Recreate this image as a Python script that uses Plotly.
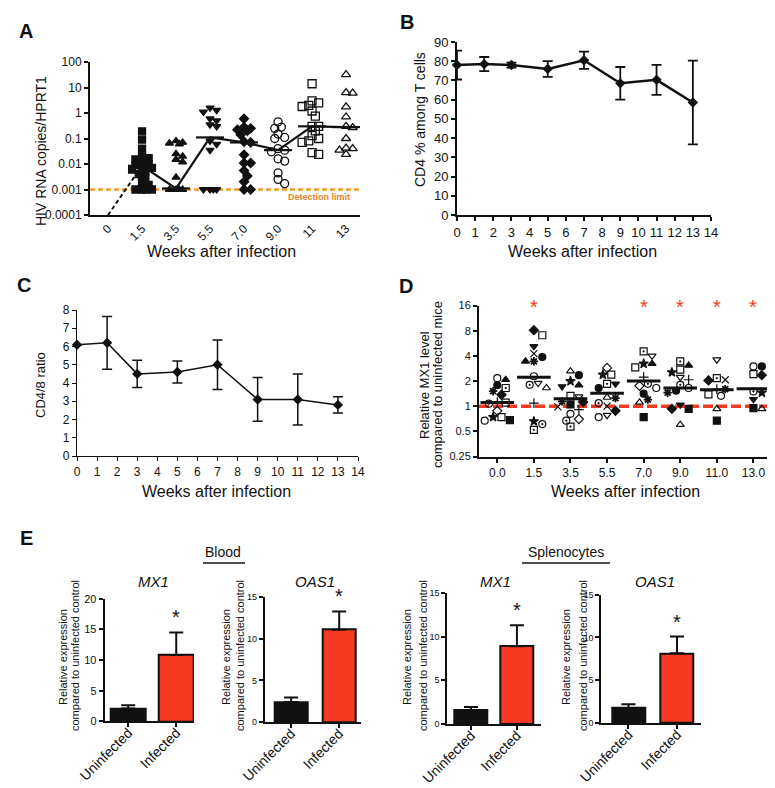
import math
import plotly.graph_objects as go

W, H = 775, 788
FONT = "Liberation Sans, Arial, Helvetica, sans-serif"
BLACK = "#111111"
RED = "#f43a22"
ORANGE = "#f29b2c"
ORANGE_TEXT = "#e8821f"

# ---------------- Panel A data ----------------
A_CATEGORIES = ["0", "1.5", "3.5", "5.5", "7.0", "9.0", "11", "13"]
A_WEEK_1_5 = [0.19, 0.09, 0.04, 0.02, 0.017, 0.015, 0.012, 0.01, 0.009, 0.008, 0.007,
              0.006, 0.005, 0.004, 0.003, 0.002, 0.0015, 0.001, 0.001, 0.001, 0.001]
A_WEEK_3_5 = [0.08, 0.07, 0.065, 0.06, 0.025, 0.02, 0.015, 0.012, 0.003, 0.001, 0.001, 0.001, 0.001]
A_WEEK_5_5 = [1.6, 1.3, 1.1, 0.6, 0.5, 0.35, 0.3, 0.08, 0.06, 0.035, 0.001, 0.001, 0.001, 0.001]
A_WEEK_7_0 = [0.6, 0.28, 0.25, 0.22, 0.2, 0.14, 0.075, 0.07, 0.023, 0.011, 0.011, 0.0055,
              0.0034, 0.002, 0.001, 0.001]
A_WEEK_9_0 = [0.45, 0.28, 0.25, 0.15, 0.11, 0.1, 0.04, 0.035, 0.03, 0.016, 0.013, 0.0045, 0.0025, 0.0017]
A_WEEK_11 = [14, 3, 2.5, 2.0, 1.8, 1.2, 0.75, 0.3, 0.3, 0.2, 0.13, 0.1, 0.08, 0.07, 0.028, 0.024]
A_WEEK_13 = [32, 6.3, 6.0, 1.75, 0.7, 0.3, 0.27, 0.1, 0.042, 0.04, 0.035, 0.024]
A_MEDIANS = [0.0001, 0.0085, 0.0011, 0.11, 0.07, 0.035, 0.3, 0.28]
A_DETECTION_LIMIT = 0.001
A_TICK_VALUES = [0.0001, 0.001, 0.01, 0.1, 1, 10, 100]
A_TICK_LABELS = ["0.0001", "0.001", "0.01", "0.1", "1", "10", "100"]

# ---------------- Panel B data ----------------
B_WEEKS = [0, 1.5, 3, 5, 7, 9, 11, 13]
B_CD4_PERCENT = [78, 78.5, 78, 76, 80.5, 68.5, 70.3, 58.5]
B_CD4_ERROR = [7.5, 3.7, 1.3, 4.1, 4.5, 8.5, 7.8, 21.8]

# ---------------- Panel C data ----------------
C_WEEKS = [0, 1.5, 3, 5, 7, 9, 11, 13]
C_CD4_CD8_RATIO = [6.1, 6.2, 4.5, 4.6, 5.0, 3.1, 3.1, 2.8]
C_RATIO_ERROR = [0, 1.44, 0.75, 0.6, 1.35, 1.2, 1.4, 0.45]

# ---------------- Panel D data ----------------
D_CATEGORIES = ["0.0", "1.5", "3.5", "5.5", "7.0", "9.0", "11.0", "13.0"]
D_WEEK_0_0 = [2.07, 2.16, 1.78, 1.65, 1.51, 1.37, 1.12, 1.1, 1.07, 0.88, 0.74, 0.74, 0.68, 0.67]
D_MICE_0_0 = ["tri", "ocirc", "circ", "sqdot", "ast", "diam", "plus", "osq", "cdot", "odiam",
              "osq", "star", "sq", "ocirc"]
D_WEEK_1_5 = [8.1, 7.05, 5.2, 4.25, 3.87, 3.44, 3.44, 2.28, 1.89, 1.65, 1.8, 1.09, 0.66, 0.52, 0.61]
D_MICE_1_5 = ["diam", "osq", "tridn", "x", "circ", "ast", "tri", "ocirc", "otridn", "otri",
              "cdot", "plus", "star", "sqdot", "cdot"]
D_WEEK_3_5 = [2.62, 2.35, 1.99, 1.78, 1.72, 1.33, 1.3, 1.14, 1.12, 1.05, 0.98, 0.91, 0.81, 0.70, 0.67, 0.57]
D_MICE_3_5 = ["otri", "circ", "star", "tri", "tridn", "osq", "otridn", "ast", "diam", "sq",
              "x", "plus", "ocirc", "odiam", "cdot", "sqdot"]
D_WEEK_5_5 = [2.87, 2.38, 2.38, 1.85, 1.85, 1.65, 1.25, 1.27, 1.09, 1.0, 0.88, 0.78, 0.74]
D_MICE_5_5 = ["odiam", "osq", "star", "sqdot", "tridn", "circ", "ast", "otri", "cdot", "x",
              "diam", "otridn", "ocirc"]
D_WEEK_7_0 = [4.53, 4.0, 3.22, 3.22, 2.91, 2.22, 1.85, 1.75, 1.65, 1.41, 1.2, 1.11, 0.74]
D_MICE_7_0 = ["sqdot", "otridn", "star", "tri", "osq", "plus", "cdot", "odiam", "ocirc", "circ",
              "ast", "otri", "sq"]
D_WEEK_9_0 = [3.43, 3.07, 2.73, 2.54, 2.22, 2.07, 1.8, 1.65, 1.53, 1.45, 1.04, 0.93, 0.93, 0.6]
D_MICE_9_0 = ["sqdot", "tri", "osq", "star", "otridn", "plus", "cdot", "ocirc", "circ", "ast",
              "tridn", "sq", "diam", "otri"]
D_WEEK_11_0 = [3.6, 2.07, 2.03, 2.17, 1.6, 1.6, 1.33, 1.38, 0.93, 0.67]
D_MICE_11_0 = ["otridn", "x", "diam", "sqdot", "plus", "ast", "ocirc", "osq", "otri", "sq"]
D_WEEK_13_0 = [2.99, 2.99, 2.35, 2.42, 1.5, 1.45, 1.21, 0.93, 0.95]
D_MICE_13_0 = ["ocirc", "circ", "diam", "osq", "cdot", "star", "tridn", "otri", "sq"]
D_MEDIANS = [1.11, 2.21, 1.23, 1.43, 2.0, 1.65, 1.57, 1.62]
D_SIGNIFICANT = [False, True, False, False, True, True, True, True]
D_TICK_VALUES = [0.25, 0.5, 1, 2, 4, 8, 16]
D_TICK_LABELS = ["0.25", "0.5", "1", "2", "4", "8", "16"]

# ---------------- Panel E data ----------------
E_GROUPS = ["Uninfected", "Infected"]
E_BLOOD_MX1 = [2.1, 10.8]
E_BLOOD_MX1_SEM = [0.5, 3.7]
E_BLOOD_OAS1 = [2.4, 11.1]
E_BLOOD_OAS1_SEM = [0.55, 2.2]
E_SPLEEN_MX1 = [1.55, 8.9]
E_SPLEEN_MX1_SEM = [0.4, 2.4]
E_SPLEEN_OAS1 = [1.75, 8.15]
E_SPLEEN_OAS1_SEM = [0.45, 1.95]

# ---------------- helpers ----------------
MOUSE_SYMBOL = {
    "sqdot": "square-open-dot", "circ": "circle", "diam": "diamond", "ast": "asterisk-open",
    "ocirc": "circle-open", "osq": "square-open", "star": "star", "tri": "triangle-up",
    "tridn": "triangle-down", "otri": "triangle-up-open", "otridn": "triangle-down-open",
    "x": "x-thin-open", "plus": "cross-thin-open", "cdot": "circle-open-dot",
    "odiam": "diamond-open", "sq": "square",
}


def xd(left, right):
    return [left / W, right / W]


def yd(top, bottom):
    return [1 - bottom / H, 1 - top / H]


def swarm(values, px_per_decade, px_per_cat, diameter, max_px):
    """Deterministic beeswarm: spreads overlapping points sideways."""
    ys = [math.log10(v) * px_per_decade for v in values]
    order = sorted(range(len(values)), key=lambda i: -values[i])
    placed = []
    offs = [0.0] * len(values)
    step = diameter * 0.6
    cands = [0.0]
    k = 1
    while k * step <= max_px:
        cands += [k * step, -k * step]
        k += 1
    for i in order:
        y = ys[i]
        best, best_d = None, -1
        for c in cands:
            dmin = min([math.hypot(c - px, y - py) for px, py in placed] or [1e9])
            if dmin >= diameter:
                best = c
                break
            if dmin > best_d:
                best_d, best = dmin, c
        placed.append((best, y))
        offs[i] = best / px_per_cat
    return offs


def axis(domain, anchor, **kw):
    base = dict(domain=domain, anchor=anchor, showline=True, linecolor=BLACK, linewidth=2,
                ticks="outside", ticklen=5, tickwidth=1.5, tickcolor=BLACK, showgrid=False,
                zeroline=False, automargin=False,
                tickfont=dict(family=FONT, size=12, color=BLACK), fixedrange=True)
    base.update(kw)
    return base


annotations = []


def text(t, x, y, size, angle=0, color=BLACK, xanchor="center", yanchor="middle"):
    annotations.append(dict(text=t, x=x / W, y=1 - y / H, xref="paper", yref="paper",
                            showarrow=False, textangle=angle, xanchor=xanchor, yanchor=yanchor,
                            font=dict(family=FONT, size=size, color=color)))


fig = go.Figure()

# ---------------- Panel A ----------------
A_X_RANGE = [-0.53, 7.41]
A_GROUPS = [
    (1, A_WEEK_1_5, "square", 7),
    (2, A_WEEK_3_5, "triangle-up", 7),
    (3, A_WEEK_5_5, "triangle-down", 7),
    (4, A_WEEK_7_0, "diamond", 7),
    (5, A_WEEK_9_0, "circle-open", 8),
    (6, A_WEEK_11, "square-open", 8),
    (7, A_WEEK_13, "triangle-up-open", 8),
]
fig.add_trace(go.Scatter(x=[A_X_RANGE[0], A_X_RANGE[1]], y=[A_DETECTION_LIMIT] * 2, mode="lines",
                         line=dict(color=ORANGE, width=2.5, dash="5px,3px"), xaxis="x", yaxis="y",
                         hoverinfo="skip"))
for idx, vals, sym, size in A_GROUPS:
    offs = swarm(vals, 25.1, 34.0, 5.5, 13)
    fig.add_trace(go.Scatter(
        x=[idx + o for o in offs], y=vals, mode="markers", xaxis="x", yaxis="y",
        marker=dict(symbol=sym, size=size, color=BLACK, line=dict(color=BLACK, width=1.3)),
        cliponaxis=False))
fig.add_trace(go.Scatter(x=[0, 1], y=A_MEDIANS[:2], mode="lines", xaxis="x", yaxis="y",
                         line=dict(color=BLACK, width=2, dash="4px,3px")))
fig.add_trace(go.Scatter(x=list(range(1, 8)), y=A_MEDIANS[1:], mode="lines+markers",
                         xaxis="x", yaxis="y", line=dict(color=BLACK, width=2.2),
                         marker=dict(symbol="line-ew", size=20, line=dict(color=BLACK, width=2.2))))

# ---------------- Panel B ----------------
fig.add_trace(go.Scatter(
    x=B_WEEKS, y=B_CD4_PERCENT, mode="lines+markers", xaxis="x2", yaxis="y2",
    line=dict(color=BLACK, width=2.5), marker=dict(symbol="diamond", size=8, color=BLACK),
    error_y=dict(type="data", array=B_CD4_ERROR, color=BLACK, thickness=1.8, width=5),
    cliponaxis=False))

# ---------------- Panel C ----------------
fig.add_trace(go.Scatter(
    x=C_WEEKS, y=C_CD4_CD8_RATIO, mode="lines+markers", xaxis="x3", yaxis="y3",
    line=dict(color=BLACK, width=1.5), marker=dict(symbol="diamond", size=8, color=BLACK),
    error_y=dict(type="data", array=C_RATIO_ERROR, color=BLACK, thickness=1.5, width=5),
    cliponaxis=False))

# ---------------- Panel D ----------------
D_X_RANGE = [-0.5, 7.48]
fig.add_trace(go.Scatter(x=D_X_RANGE, y=[1, 1], mode="lines", xaxis="x4", yaxis="y4",
                         line=dict(color=RED, width=3.5, dash="10px,4px"), hoverinfo="skip"))
D_GROUPS = [
    (D_WEEK_0_0, D_MICE_0_0), (D_WEEK_1_5, D_MICE_1_5), (D_WEEK_3_5, D_MICE_3_5),
    (D_WEEK_5_5, D_MICE_5_5), (D_WEEK_7_0, D_MICE_7_0), (D_WEEK_9_0, D_MICE_9_0),
    (D_WEEK_11_0, D_MICE_11_0), (D_WEEK_13_0, D_MICE_13_0),
]
for idx, (vals, mice) in enumerate(D_GROUPS):
    offs = swarm(vals, 83.55, 36.6, 7, 14)
    fig.add_trace(go.Scatter(
        x=[idx + o for o in offs], y=vals, mode="markers", xaxis="x4", yaxis="y4",
        marker=dict(symbol=[MOUSE_SYMBOL[m] for m in mice], size=7, color=BLACK,
                    line=dict(color=BLACK, width=[1.8 if m == "ast" else 1.2 for m in mice])),
        cliponaxis=False))
fig.add_trace(go.Scatter(x=list(range(8)), y=D_MEDIANS, mode="markers", xaxis="x4", yaxis="y4",
                         marker=dict(symbol="line-ew", size=24, line=dict(color=BLACK, width=3))))
for i, sig in enumerate(D_SIGNIFICANT):
    if sig:
        annotations.append(dict(text="*", x=i, y=math.log10(D_TICK_VALUES[-1]), xref="x4", yref="y4",
                                showarrow=False, xanchor="center", yanchor="middle", yshift=-1,
                                font=dict(family=FONT, size=20, color=RED)))

# ---------------- Panel E ----------------
E_PANELS = [
    ("5", E_BLOOD_MX1, E_BLOOD_MX1_SEM),
    ("6", E_BLOOD_OAS1, E_BLOOD_OAS1_SEM),
    ("7", E_SPLEEN_MX1, E_SPLEEN_MX1_SEM),
    ("8", E_SPLEEN_OAS1, E_SPLEEN_OAS1_SEM),
]
E_WIDTHS = [0.72, 0.69, 0.71, 0.68]
for (n, vals, sem), wdt in zip(E_PANELS, E_WIDTHS):
    fig.add_trace(go.Bar(
        x=[0, 1], y=vals, width=wdt, xaxis="x" + n, yaxis="y" + n,
        marker=dict(color=[BLACK, RED], line=dict(color=BLACK, width=2)),
        error_y=dict(type="data", array=sem, arrayminus=[0, 0], symmetric=False,
                     color=BLACK, thickness=2, width=7)))
    annotations.append(dict(text="*", x=1, y=vals[1] + sem[1], xref="x" + n, yref="y" + n,
                            showarrow=False, xanchor="center", yanchor="bottom", yshift=2,
                            font=dict(family=FONT, size=20, color=BLACK)))

# ---------------- layout ----------------
layout = dict(
    template="none",
    width=W, height=H, margin=dict(l=0, r=0, t=0, b=0, pad=0, autoexpand=False),
    showlegend=False, paper_bgcolor="white", plot_bgcolor="white", bargap=0,
    font=dict(family=FONT, color=BLACK),
)
# A
layout["xaxis"] = axis(xd(82, 352), "y", range=A_X_RANGE, tickvals=list(range(8)),
                       ticktext=A_CATEGORIES, ticks="", tickangle=-45,
                       tickfont=dict(family=FONT, size=12, color=BLACK))
layout["yaxis"] = axis(yd(54, 207), "x", type="log", range=[-4, 2], tickvals=A_TICK_VALUES,
                       ticktext=A_TICK_LABELS, ticklen=4, tickfont=dict(family=FONT, size=12, color=BLACK))
# B
layout["xaxis2"] = axis(xd(449, 703), "y2", range=[0, 14], dtick=1, tick0=0, ticklen=4,
                        tickfont=dict(family=FONT, size=13, color=BLACK))
layout["yaxis2"] = axis(yd(34, 207), "x2", range=[0, 90], dtick=10, ticklen=4,
                        tickfont=dict(family=FONT, size=13, color=BLACK))
# C
layout["xaxis3"] = axis(xd(69, 350), "y3", range=[0, 14], dtick=1, linewidth=1.3, tickwidth=1.2,
                        ticklen=4)
layout["yaxis3"] = axis(yd(302, 448), "x3", range=[0, 8], dtick=1, linewidth=1.3, tickwidth=1.2,
                        ticklen=4)
# D
layout["xaxis4"] = axis(xd(471, 763), "y4", range=D_X_RANGE, tickvals=list(range(8)),
                        ticktext=D_CATEGORIES, ticklen=4)
layout["yaxis4"] = axis(yd(297.5, 448.5), "x4", type="log",
                        range=[math.log10(0.25), math.log10(16)], tickvals=D_TICK_VALUES,
                        ticktext=D_TICK_LABELS, ticklen=4, tickfont=dict(family=FONT, size=11, color=BLACK))
# E
E_BOX = [
    (96.7, 186, -0.49, 1.37, 590.7, 713.3, 20, 11),
    (256.7, 353.3, -0.55, 1.46, 589.3, 714, 15, 9),
    (439.3, 533.3, -0.515, 1.53, 585, 716, 15, 9),
    (593.3, 693.3, -0.56, 1.5, 586.7, 715, 15, 9),
]
for n, (l, r, x0, x1, t, b, ymax, fs) in zip(["5", "6", "7", "8"], E_BOX):
    layout["xaxis" + n] = axis(xd(l, r), "y" + n, range=[x0, x1], tickvals=[0, 1],
                               ticktext=E_GROUPS, tickangle=-45, ticklen=4,
                               ticklabelstandoff=-8,
                               tickfont=dict(family=FONT, size=14, color=BLACK))
    layout["yaxis" + n] = axis(yd(t, b), "x" + n, range=[0, ymax], dtick=5, ticklen=4,
                               tickfont=dict(family=FONT, size=fs, color=BLACK))

# text: panel letters
for letter, x, y in [("A", 18, 23), ("B", 399, 14), ("C", 16, 277), ("D", 398, 278), ("E", 18, 530)]:
    text("<b>" + letter + "</b>", x, y, 20)

text("HIV RNA copies/HPRT1", 33, 143, 14, angle=-90)
text("Weeks after infection", 213, 244, 16)
text("<b>Detection limit</b>", 311, 189, 9, color=ORANGE_TEXT)
text("CD4 % among T cells", 412, 112, 14, angle=-90)
text("Weeks after infection", 574, 244, 16)
text("CD4/8 ratio", 32, 377, 13, angle=-90)
text("Weeks after infection", 209, 483, 16)
text("Relative MX1 level", 416, 377, 13, angle=-90)
text("compared to uninfected mice", 429, 377, 13, angle=-90)
text("Weeks after infection", 617, 483, 16)

text("Blood", 215, 544, 14)
text("Splenocytes", 558, 544, 14)
for name, x in [("MX1", 145), ("OAS1", 307), ("MX1", 487), ("OAS1", 647)]:
    text("<i>" + name + "</i>", x, 573, 15)
for x1, x2 in [(55, 67), (218, 232), (399, 415), (558, 575)]:
    text("Relative expression", x1, 649, 11, angle=-90)
    text("compared to uninfected control", x2, 648, 11, angle=-90)

layout["annotations"] = annotations
layout["shapes"] = [
    dict(type="line", xref="paper", yref="paper", x0=195 / W, x1=237 / W, y0=1 - 555 / H,
         y1=1 - 555 / H, line=dict(color=BLACK, width=1.5)),
    dict(type="line", xref="paper", yref="paper", x0=514 / W, x1=602 / W, y0=1 - 555 / H,
         y1=1 - 555 / H, line=dict(color=BLACK, width=1.5)),
]
fig.update_layout(**layout)
fig.write_html("out.html")
